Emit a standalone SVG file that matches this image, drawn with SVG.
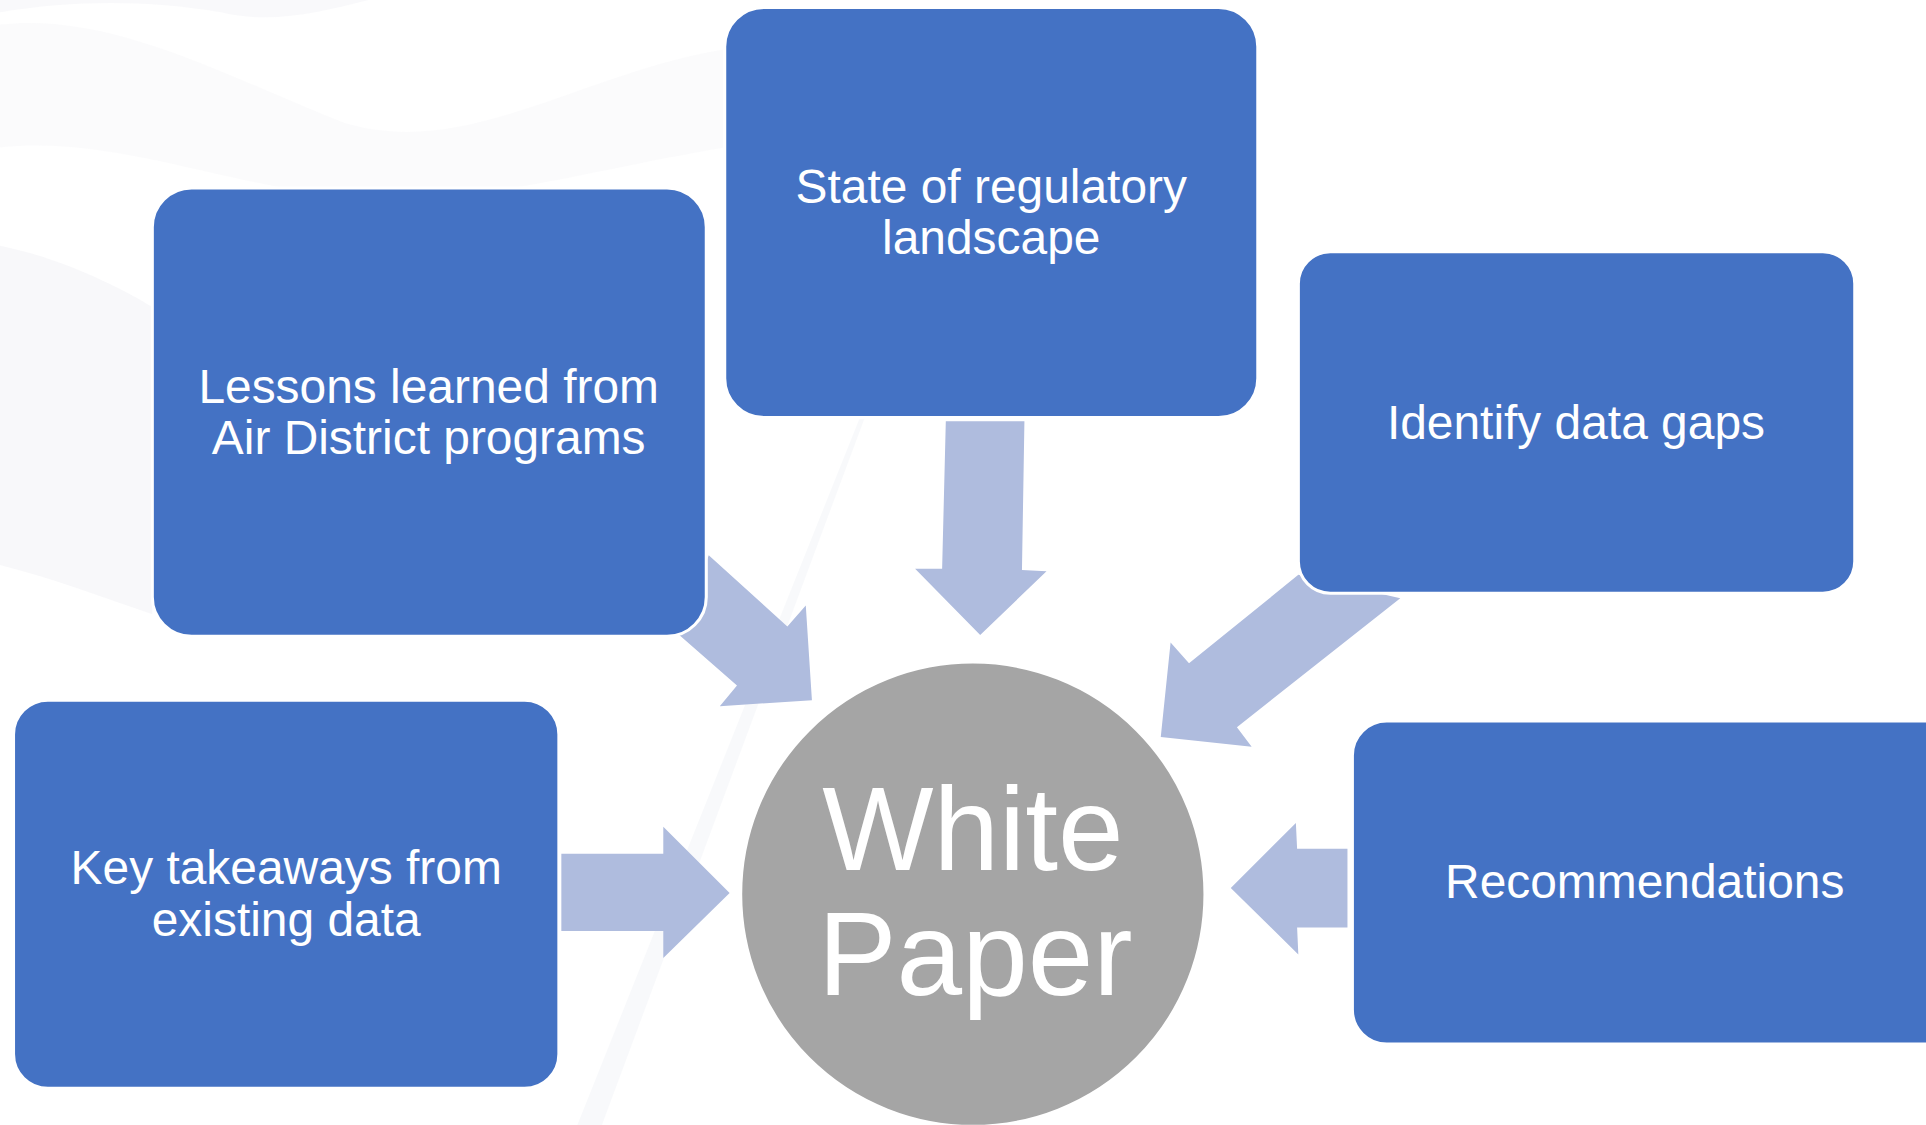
<svg xmlns="http://www.w3.org/2000/svg" width="1926" height="1125" viewBox="0 0 1926 1125">
<defs>
<style>
.box{fill:#4472C4;stroke:#ffffff;stroke-width:2.5}
.arrow{fill:#AFBCDE;stroke:none}
.lbl{font-family:"Liberation Sans",Arial,sans-serif;font-size:39px;fill:#ffffff;text-anchor:middle}
.big{font-family:"Liberation Sans",Arial,sans-serif;font-size:96px;fill:#ffffff;text-anchor:middle}
.bg{fill:#f3f4f7;stroke:none}
</style>
</defs>
<rect x="0" y="0" width="1926" height="1125" fill="#ffffff"/>
<g transform="scale(1.22832)">
<g id="background">
<path class="bg" d="M0,0 L300,0 C260,10 220,20 180,10 C120,0 60,0 0,10 Z" opacity="0.5"/>
<path class="bg" d="M0,20 C90,10 180,60 280,100 C380,130 470,60 590,40 L590,120 C470,140 380,170 280,160 C180,150 90,110 0,120 Z" opacity="0.35"/>
<path class="bg" d="M0,200 C50,210 100,235 124,250 L124,500 C80,485 40,470 0,460 Z" opacity="0.6"/>
<path d="M700,340 L470,916 L490,916 L704,340 Z" fill="#f4f5f8" opacity="0.6"/>
</g>
<g id="connectors">
<polygon class="arrow" points="770,343 834,343 832,464 852,465 798,517 745,463 767,463"/>
<polygon class="arrow" points="577,452 641,510 656,493 661,570 586,575 600,558 553,517"/>
<polygon class="arrow" points="1057,468 968,540 953,523 945,600 1019,608 1007,592 1140,487"/>
<polygon class="arrow" points="457,695 540,695 540,673 594,727 540,780 540,758 457,758"/>
<polygon class="arrow" points="1097,691 1056,691 1055,670 1002,723 1057,777 1056,755 1097,755"/>
</g>
<g id="node-state">
<rect class="box" x="590" y="6" width="434" height="334" rx="32"/>
<text class="lbl" x="807" y="165">State of regulatory</text>
<text class="lbl" x="807" y="207">landscape</text>
</g>
<g id="node-lessons">
<rect class="box" x="124" y="153" width="451" height="365" rx="32"/>
<text class="lbl" x="349" y="328">Lessons learned from</text>
<text class="lbl" x="349" y="370">Air District programs</text>
</g>
<g id="node-gaps">
<rect class="box" x="1057" y="205" width="453" height="278" rx="26"/>
<text class="lbl" x="1283" y="357">Identify data gaps</text>
</g>
<g id="node-key">
<rect class="box" x="11" y="570" width="444" height="316" rx="28"/>
<text class="lbl" x="233" y="720">Key takeaways from</text>
<text class="lbl" x="233" y="762">existing data</text>
</g>
<g id="node-rec">
<rect class="box" x="1101" y="587" width="500" height="263" rx="28"/>
<text class="lbl" x="1339" y="731">Recommendations</text>
</g>
<g id="node-white-paper">
<circle cx="792" cy="728" r="189" fill="#A5A5A5" stroke="#ffffff" stroke-width="2.5"/>
<text class="big" x="792" y="708">White</text>
<text class="big" x="794" y="810">Paper</text>
</g>
</g>
</svg>
